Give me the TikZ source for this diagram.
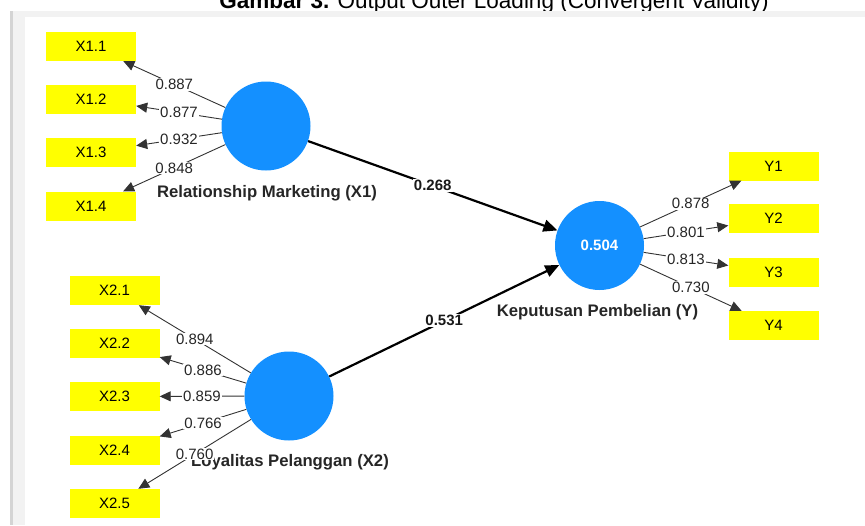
\documentclass[tikz,border=0pt]{standalone}
\usepackage{fontspec}
\setmainfont{Liberation Sans}
\usetikzlibrary{arrows.meta}
\definecolor{lvblue}{RGB}{20,144,255}
\definecolor{indy}{RGB}{255,255,0}
\definecolor{framedark}{RGB}{212,212,212}
\definecolor{framelight}{RGB}{242,242,242}
\begin{document}
\begin{tikzpicture}[x=1pt,y=-1pt,
  lv/.style={circle, fill=lvblue, minimum size=89pt, inner sep=0pt, text=white, font=\bfseries\fontsize{15}{17}\selectfont},
  ind/.style={rectangle, fill=indy, minimum width=90pt, minimum height=29pt, inner sep=0pt, font=\fontsize{15}{17}\selectfont},
  lvname/.style={font=\bfseries\fontsize{16.7}{19}\selectfont, anchor=base, text=black!85, inner sep=1pt},
  load/.style={draw=black!80, line width=0.9pt, -{Triangle[length=11pt,width=10pt]}},
  loadlab/.style={fill=white, inner sep=1pt, font=\fontsize{15}{17}\selectfont, text=black!85},
  structpath/.style={draw=black, line width=2.2pt, -{Triangle[length=14pt,width=12pt]}},
  pathlab/.style={fill=white, inner sep=1pt, font=\bfseries\fontsize{15}{17}\selectfont, text=black!90}
]
\useasboundingbox (0,0) rectangle (865,525);
\clip (0,0) rectangle (865,525);
% title (cut by the top edge)
\node[anchor=base, inner sep=0pt, font=\fontsize{22.5}{26}\selectfont] (title) at (494,8) {\textbf{Gambar 3.} Output Outer Loading (Convergent Validity)};
% frame
\fill[framelight] (10,11) rectangle (865,17);
\fill[framelight] (10,11) rectangle (25,525);
\fill[framedark] (10,11) rectangle (13,525);

% latent variables
\node[lv] (x1) at (266,126) {};
\node[lv] (x2) at (289,396) {};
\node[lv] (y) at (599.5,245.5) {0.504};

% names
\node[lvname] (x1name) at (267,197) {Relationship Marketing (X1)};
\node[lvname] (x2name) at (290,466) {Loyalitas Pelanggan (X2)};
\node[lvname] (yname) at (597.5,316) {Keputusan Pembelian (Y)};

% indicators
\node[ind] (x11) at (91,46.5) {X1.1};
\node[ind] (x12) at (91,99) {X1.2};
\node[ind] (x13) at (91,152.5) {X1.3};
\node[ind] (x14) at (91,206) {X1.4};

\node[ind] (x21) at (114.5,290.5) {X2.1};
\node[ind] (x22) at (114.5,343.5) {X2.2};
\node[ind] (x23) at (114.5,396.5) {X2.3};
\node[ind] (x24) at (114.5,450.5) {X2.4};
\node[ind] (x25) at (114.5,503.5) {X2.5};

\node[ind] (y1) at (773.5,166) {Y1};
\node[ind] (y2) at (773.5,218.5) {Y2};
\node[ind] (y3) at (773.5,272.5) {Y3};
\node[ind] (y4) at (773.5,325.5) {Y4};

% outer loadings
\draw[load] (x1) -- node[loadlab] {0.887} (x11);
\draw[load] (x1) -- node[loadlab] {0.877} (x12);
\draw[load] (x1) -- node[loadlab] {0.932} (x13);
\draw[load] (x1) -- node[loadlab] {0.848} (x14);

\draw[load] (x2) -- node[loadlab] {0.894} (x21);
\draw[load] (x2) -- node[loadlab] {0.886} (x22);
\draw[load] (x2) -- node[loadlab] {0.859} (x23);
\draw[load] (x2) -- node[loadlab] {0.766} (x24);
\draw[load] (x2) -- node[loadlab] {0.760} (x25);

\draw[load] (y) -- node[loadlab] {0.878} (y1);
\draw[load] (y) -- node[loadlab] {0.801} (y2);
\draw[load] (y) -- node[loadlab] {0.813} (y3);
\draw[load] (y) -- node[loadlab] {0.730} (y4);

% structural paths
\draw[structpath] (x1) -- node[pathlab] {0.268} (y);
\draw[structpath] (x2) -- node[pathlab] {0.531} (y);
\end{tikzpicture}
\end{document}
